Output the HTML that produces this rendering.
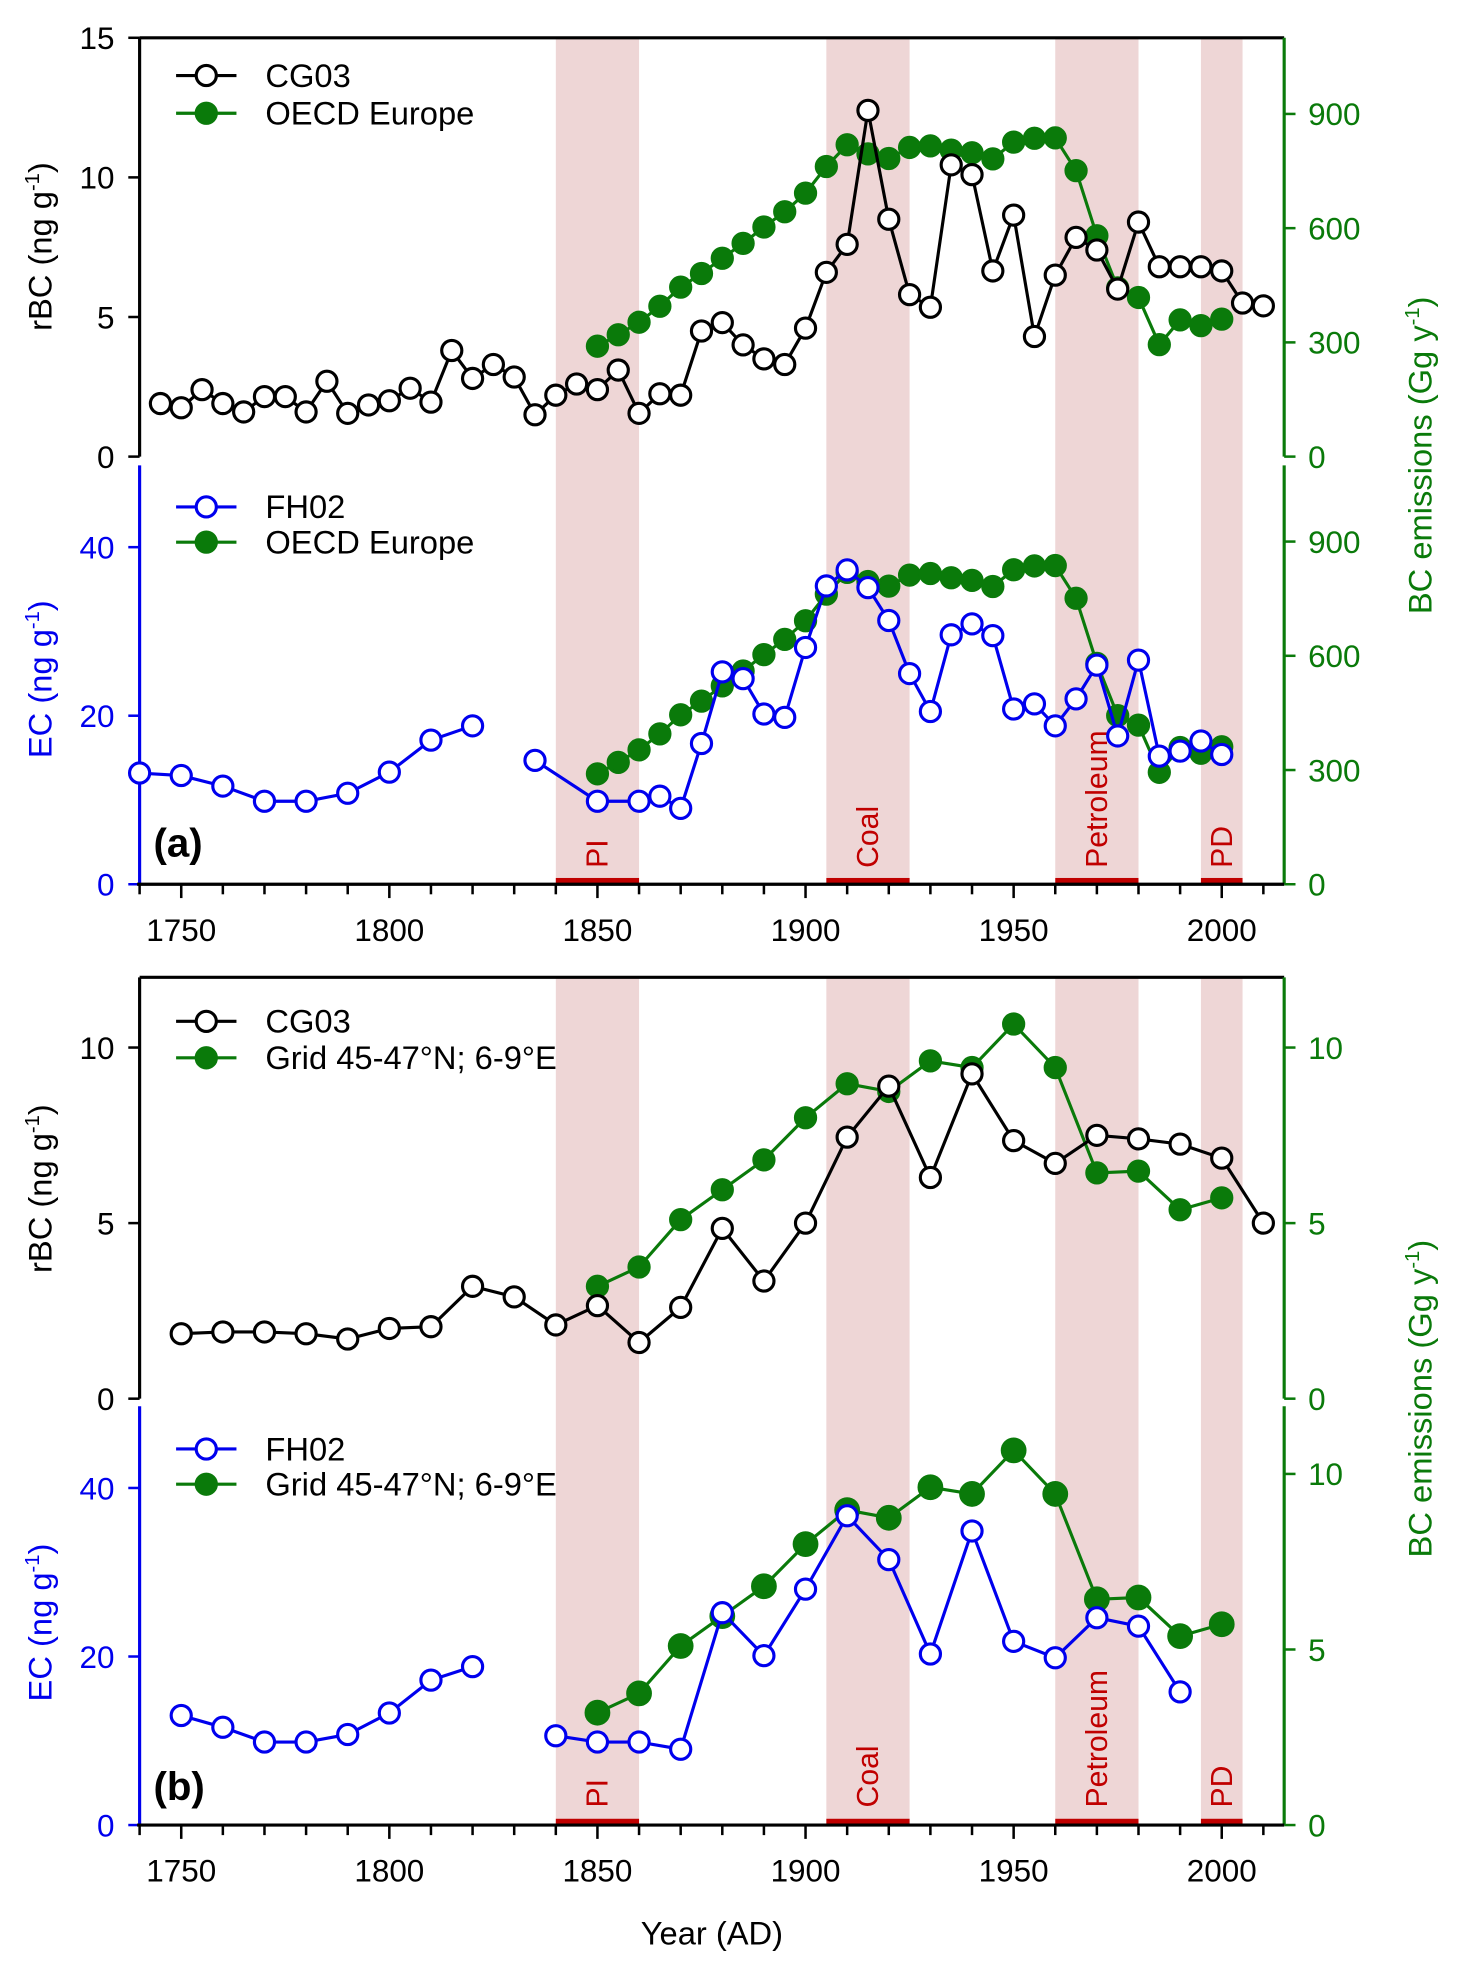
<!DOCTYPE html>
<html><head><meta charset="utf-8"><style>
body{margin:0;background:#fff;}
svg{display:block;font-family:"Liberation Sans",Arial,sans-serif;}
</style></head><body>
<svg id="chart" width="1459" height="1971" viewBox="0 0 1160 1567" xmlns="http://www.w3.org/2000/svg"></svg>
<script>
// ---- data ----
const cg03aYears=[1745,1750,1755,1760,1765,1770,1775,1780,1785,1790,1795,1800,1805,1810,1815,1820,1825,1830,1835,1840,1845,1850,1855,1860,1865,1870,1875,1880,1885,1890,1895,1900,1905,1910,1915,1920,1925,1930,1935,1940,1945,1950,1955,1960,1965,1970,1975,1980,1985,1990,1995,2000,2005,2010];
const cg03aValues=[1.9,1.75,2.4,1.9,1.6,2.15,2.15,1.6,2.7,1.55,1.85,2.0,2.45,1.95,3.8,2.8,3.3,2.85,1.5,2.2,2.6,2.4,3.1,1.55,2.25,2.2,4.5,4.8,4.0,3.5,3.3,4.6,6.6,7.6,12.4,8.5,5.8,5.35,10.45,10.1,6.65,8.65,4.3,6.5,7.85,7.4,6.0,8.4,6.8,6.8,6.8,6.65,5.5,5.4];
const oecdYears=[1850,1855,1860,1865,1870,1875,1880,1885,1890,1895,1900,1905,1910,1915,1920,1925,1930,1935,1940,1945,1950,1955,1960,1965,1970,1975,1980,1985,1990,1995,2000];
const oecdValues=[290,320,353,395,445,481,521,560,603,643,692,762,819,795,783,812,816,805,798,782,826,836,837,751,580,443,418,294,359,344,361];
const fh02aYears=[1740,1750,1760,1770,1780,1790,1800,1810,1820,null,1835,1850,1860,1865,1870,1875,1880,1885,1890,1895,1900,1905,1910,1915,1920,1925,1930,1935,1940,1945,1950,1955,1960,1965,1970,1975,1980,1985,1990,1995,2000];
const fh02aValues=[13.2,12.9,11.65,9.85,9.85,10.8,13.3,17.1,18.8,null,14.7,9.85,9.85,10.45,9.0,16.7,25.2,24.4,20.2,19.8,28.1,35.4,37.3,35.2,31.3,25.0,20.5,29.6,30.9,29.5,20.8,21.4,18.8,22.0,26.0,17.6,26.6,15.2,15.8,17.0,15.4];
const cg03bYears=[1750,1760,1770,1780,1790,1800,1810,1820,1830,1840,1850,1860,1870,1880,1890,1900,1910,1920,1930,1940,1950,1960,1970,1980,1990,2000,2010];
const cg03bValues=[1.85,1.9,1.9,1.85,1.7,2.0,2.05,3.2,2.9,2.1,2.65,1.6,2.6,4.85,3.35,5.0,7.45,8.9,6.3,9.25,7.35,6.7,7.5,7.4,7.25,6.85,5.0];
const gridYears=[1850,1860,1870,1880,1890,1900,1910,1920,1930,1940,1950,1960,1970,1980,1990,2000];
const gridValues=[3.2,3.75,5.1,5.95,6.8,8.0,8.97,8.75,9.62,9.43,10.67,9.43,6.43,6.48,5.38,5.72];
const fh02bYears=[1750,1760,1770,1780,1790,1800,1810,1820,null,1840,1850,1860,1870,1880,1890,1900,1910,1920,1930,1940,1950,1960,1970,1980,1990];
const fh02bValues=[13.0,11.6,9.85,9.85,10.75,13.3,17.2,18.8,null,10.6,9.85,9.85,9.0,25.2,20.1,28.0,36.7,31.5,20.3,34.9,21.8,19.85,24.6,23.6,15.8];
const periodNames=["PI","Coal","Petroleum","PD"];
const periodStart=[1840,1905,1960,1995];
const periodEnd=[1860,1925,1980,2005];
const xTicks=[1750,1800,1850,1900,1950,2000];

const NS="http://www.w3.org/2000/svg";
const svg=document.getElementById('chart');
function el(tag,attrs,parent,text){const e=document.createElementNS(NS,tag);for(const k in attrs)e.setAttribute(k,attrs[k]);if(text!==undefined)e.textContent=text;(parent||svg).appendChild(e);return e;}
const X0=111,X1=1021,Y0=1740,Y1=2015;
function xs(y){return X0+(y-Y0)*(X1-X0)/(Y1-Y0);}
function lin(d0,d1,p0,p1){return v=>p0+(v-d0)*(p1-p0)/(d1-d0);}
const GREEN="#0a7a0a",BLUE="#0000ee",BAND="#eed6d6",RED="#c00000";
const TF=25;

function bands(top,bot,labelY){
  for(let i=0;i<periodNames.length;i++){
    const r=el('rect',{x:xs(periodStart[i]),y:top,width:xs(periodEnd[i])-xs(periodStart[i]),height:bot-top,fill:BAND});
    
    
    const b=el('rect',{x:xs(periodStart[i]),y:bot-5,width:xs(periodEnd[i])-xs(periodStart[i]),height:5,fill:RED});
    
    
    const cx=(xs(periodStart[i])+xs(periodEnd[i]))/2;
    const t=el('text',{x:0,y:0,transform:`translate(${cx+8},${labelY}) rotate(-90)`,fill:RED,'font-size':24},undefined,periodNames[i]);
    
    
  }
}
function series(years,vals,ys,color,filled,r,name){
  const g=el('g',{});
  
  
  let segs=[],cur=[];
  years.forEach((y,i)=>{if(y===null){if(cur.length)segs.push(cur);cur=[];}else cur.push([xs(y),ys(vals[i])]);});
  if(cur.length)segs.push(cur);
  segs.forEach(s=>el('polyline',{points:s.map(p=>p.join(',')).join(' '),fill:'none',stroke:color,'stroke-width':2.5},g));
  segs.forEach(s=>s.forEach(p=>{
    const c=el('circle',{cx:p[0],cy:p[1],r:r,fill:filled?color:'#fff',stroke:color,'stroke-width':2.5},g);
    
    
  }));
}
function leftAxis(top,bot,ys,ticks,color,name){
  el('line',{x1:X0,y1:top,x2:X0,y2:bot,stroke:color,'stroke-width':2.5});
  ticks.forEach(t=>{const y=ys(t);el('line',{x1:X0-9,y1:y,x2:X0,y2:y,stroke:color,'stroke-width':2});
    const tx=el('text',{x:X0-20,y:y+9,'text-anchor':'end','font-size':TF,fill:color},undefined,String(t));
    
    });
}
function rightAxis(top,bot,ys,ticks,name){
  el('line',{x1:X1,y1:top,x2:X1,y2:bot,stroke:GREEN,'stroke-width':2.5});
  ticks.forEach(t=>{const y=ys(t);el('line',{x1:X1,y1:y,x2:X1+9,y2:y,stroke:GREEN,'stroke-width':2});
    const tx=el('text',{x:X1+19,y:y+9,'font-size':TF,fill:GREEN},undefined,String(t));
    
    });
}
function xAxis(y,labels){
  el('line',{x1:X0-2,y1:y,x2:X1,y2:y,stroke:'#000','stroke-width':2.5});
  for(let yr=1740;yr<=2010;yr+=10){const major=yr%50===0;el('line',{x1:xs(yr),y1:y,x2:xs(yr),y2:y+(major?11:8),stroke:'#000','stroke-width':2});}
  if(labels)xTicks.forEach(t=>{const tx=el('text',{x:xs(t),y:y+45,'text-anchor':'middle','font-size':TF},undefined,String(t));
    
    });
}
function legend(y,color,filled,label,name){
  const g=el('g',{});
  
  
  el('line',{x1:140,y1:y,x2:188,y2:y,stroke:color,'stroke-width':2.5},g);
  el('circle',{cx:164,cy:y,r:8,fill:filled?color:'#fff',stroke:color,'stroke-width':2.5},g);
  el('text',{x:211,y:y+9,'font-size':26},g,label);
}
function vtitle(x,y,color,main,sup,name){
  const t=el('text',{transform:`translate(${x},${y}) rotate(-90)`,'text-anchor':'middle','font-size':26,fill:color});
  
  
  el('tspan',{},t,main);el('tspan',{dy:-10,'font-size':16},t,sup);el('tspan',{dy:10},t,')');
}

// ---- Panel (a) ----
bands(30,703,690);
const yA1=lin(0,15,363,30), eA1=lin(0,1100,363,30);
const yA2=lin(0,50,703,368), eA2=lin(0,1100,703,370);
el('line',{x1:X0,y1:30,x2:X1,y2:30,stroke:'#000','stroke-width':2.5});
leftAxis(30,363,yA1,[0,5,10,15],'#000','rbc-a');
leftAxis(370,703,yA2,[0,20,40],BLUE,'ec-a');
rightAxis(30,363,eA1,[0,300,600,900],'emis-a-top');
rightAxis(370,703,eA2,[0,300,600,900],'emis-a-bottom');
xAxis(703,true);
series(oecdYears,oecdValues,eA1,GREEN,true,8,'oecd-europe-a-top');
series(cg03aYears,cg03aValues,yA1,'#000',false,8,'cg03-a');
series(oecdYears,oecdValues,eA2,GREEN,true,8,'oecd-europe-a-bottom');
series(fh02aYears,fh02aValues,yA2,BLUE,false,8,'fh02-a');
legend(60,'#000',false,'CG03','legend-cg03-a');
legend(90,GREEN,true,'OECD Europe','legend-oecd-a-top');
legend(403,BLUE,false,'FH02','legend-fh02-a');
legend(431,GREEN,true,'OECD Europe','legend-oecd-a-bottom');
vtitle(41,196,'#000','rBC (ng g','-1','rbc-axis-title-a');
vtitle(41,540,BLUE,'EC (ng g','-1','ec-axis-title-a');
vtitle(1138,362,GREEN,'BC emissions (Gg y','-1','emissions-axis-title-a');
let lab=el('text',{x:122,y:681,'font-size':32,'font-weight':'bold'},undefined,'(a)');


// ---- Panel (b) ----
bands(777,1451,1437);
const yB1=lin(0,12,1112,777), eB1=lin(0,12,1112,777);
const yB2=lin(0,50,1451,1116), eB2=lin(0,12,1451,1116);
el('line',{x1:X0,y1:777,x2:X1,y2:777,stroke:'#000','stroke-width':2.5});
leftAxis(777,1112,yB1,[0,5,10],'#000','rbc-b');
leftAxis(1118,1451,yB2,[0,20,40],BLUE,'ec-b');
rightAxis(777,1112,eB1,[0,5,10],'emis-b-top');
rightAxis(1118,1451,eB2,[0,5,10],'emis-b-bottom');
xAxis(1451,true);
series(gridYears,gridValues,eB1,GREEN,true,8,'grid-b-top');
series(cg03bYears,cg03bValues,yB1,'#000',false,8,'cg03-b');
series(gridYears,gridValues,eB2,GREEN,true,9,'grid-b-bottom');
series(fh02bYears,fh02bValues,yB2,BLUE,false,8,'fh02-b');
legend(812,'#000',false,'CG03','legend-cg03-b');
legend(841,GREEN,true,'Grid 45-47°N; 6-9°E','legend-grid-b-top');
legend(1152,BLUE,false,'FH02','legend-fh02-b');
legend(1180,GREEN,true,'Grid 45-47°N; 6-9°E','legend-grid-b-bottom');
vtitle(41,945,'#000','rBC (ng g','-1','rbc-axis-title-b');
vtitle(41,1290,BLUE,'EC (ng g','-1','ec-axis-title-b');
vtitle(1138,1112,GREEN,'BC emissions (Gg y','-1','emissions-axis-title-b');
lab=el('text',{x:122,y:1431,'font-size':32,'font-weight':'bold'},undefined,'(b)');

const xt=el('text',{x:566,y:1546,'text-anchor':'middle','font-size':26},undefined,'Year (AD)');


</script>
</body></html>
